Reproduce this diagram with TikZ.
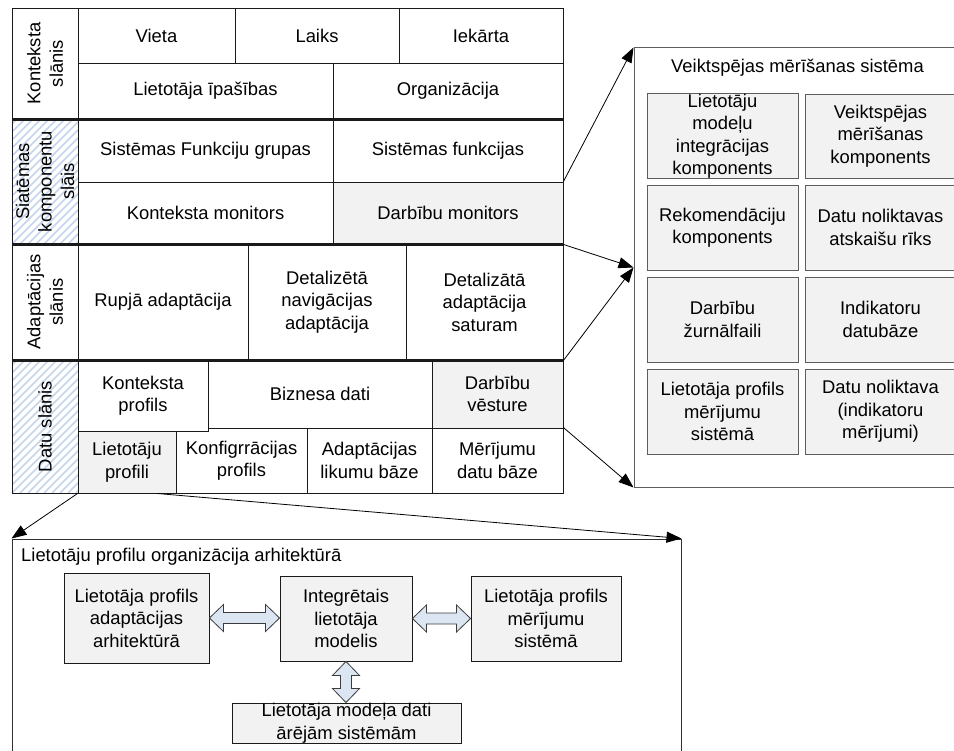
\documentclass[tikz,border=0pt]{standalone}
\usepackage{fontspec}
\setmainfont{Liberation Sans}
\usetikzlibrary{arrows.meta,calc}

\definecolor{edge}{HTML}{1A1A1A}
\definecolor{cellgray}{HTML}{F2F2F2}
\definecolor{hatchblue}{HTML}{C4D4EA}
\definecolor{arrowblue}{HTML}{DCE6F2}
\definecolor{framegray}{HTML}{5E5E5E}

\tikzset{
  txt/.style={font=\fontsize{18.4}{22.5}\selectfont},
  cell/.style={txt, draw=edge, line width=0.9pt, rectangle, inner sep=0pt, align=center},
  graycell/.style={cell, fill=cellgray},
  gridcell/.style={cell, fill=cellgray, draw=framegray},
  layerlabel/.style={txt, rotate=90, align=center, inner sep=0pt},
  layersep/.style={draw=edge, line width=2.4pt},
  link/.style={draw=black, line width=0.8pt, -{Triangle[length=15pt,width=11pt]}},
  hatch/.style={draw=hatchblue, line width=1.5pt},
  blockarrow/.style={draw=edge!85, fill=arrowblue, line width=0.8pt, line join=miter},
  frame/.style={draw=framegray, line width=1pt, rectangle, inner sep=0pt},
  title/.style={txt, anchor=west, inner sep=0pt},
}

% \cellat[style]{name}{x1}{y1}{x2}{y2}{text}: a box spanning (x1,y1)-(x2,y2)
\newcommand\cellat[7][]{%
  \node[cell,#1,minimum width={(#5)-(#3)},minimum height={(#6)-(#4)}]
    (#2) at ({((#3)+(#5))/2},{((#4)+(#6))/2}) {#7};}

\begin{document}
\begin{tikzpicture}[x=1pt,y=-1pt]
\useasboundingbox (0,0) rectangle (954,751);
\clip (0,0) rectangle (954,751);

% ---------- hatched layer labels ----------
\foreach \ya/\yb in {119/244, 360/493}{
  \begin{scope}
    \clip (12,\ya) rectangle (78,\yb);
    \foreach \k in {-160,-152,...,80}
      \draw[hatch] (12+\k,\yb) -- ++(170,-170);
  \end{scope}
}

% ---------- layer label column ----------
\cellat{lk}{12}{8}{78}{119}{}
\cellat{ls}{12}{119}{78}{244}{}
\cellat{la}{12}{244}{78}{360}{}
\cellat{ld}{12}{360}{78}{493}{}
\node[layerlabel] (tk) at (lk.center) {Konteksta\\slānis};
\node[layerlabel] (ts) at (ls.center) {Siatēmas\\komponentu\\slāis};
\node[layerlabel] (ta) at (la.center) {Adaptācijas\\slānis};
\node[layerlabel] (td) at (ld.center) {Datu slānis};

% ---------- context layer ----------
\cellat{vieta}{78}{8}{235}{63}{Vieta}
\cellat{laiks}{235}{8}{399}{63}{Laiks}
\cellat{iekarta}{399}{8}{563}{63}{Iekārta}
\cellat{lipas}{78}{63}{333}{119}{Lietotāja īpašības}
\cellat{org}{333}{63}{563}{119}{Organizācija}

% ---------- system components layer ----------
\cellat{sfg}{78}{119}{333}{182}{Sistēmas Funkciju grupas}
\cellat{sf}{333}{119}{563}{182}{Sistēmas funkcijas}
\cellat{km}{78}{182}{333}{244}{Konteksta monitors}
\cellat[graycell]{dm}{333}{182}{563}{244}{Darbību monitors}

% ---------- adaptation layer ----------
\cellat{ra}{78}{244}{248}{360}{Rupjā adaptācija}
\cellat{dna}{248}{244}{406}{360}{Detalizētā\\navigācijas\\adaptācija}
\cellat{das}{406}{244}{563}{360}{Detalizātā\\adaptācija\\saturam}

% ---------- data layer ----------
\cellat{bd}{208}{360}{432}{428}{Biznesa dati}
\cellat[graycell]{dv}{432}{360}{563}{428}{Darbību\\vēsture}
\cellat{kfp}{176}{428}{307}{493}{Konfigrrācijas\\profils}
\cellat{alb}{307}{428}{432}{493}{Adaptācijas\\likumu bāze}
\cellat{mdb}{432}{428}{563}{493}{Mērījumu\\datu bāze}
\cellat[fill=white]{ktp}{78}{360}{208}{431}{Konteksta\\profils}
\cellat[graycell]{lp}{78}{431}{176}{493}{Lietotāju\\profili}

% ---------- layer separators ----------
\draw[layersep] (lk.south west) -- (org.south east);
\draw[layersep] (ls.south west) -- (dm.south east);
\draw[layersep] (la.south west) -- (das.south east);

% ---------- performance measurement system ----------
\node[frame, minimum width=335, minimum height=439] (vms) at (801.5,267.5) {};
\node[title] (vmst) at (671,68) {Veiktspējas mērīšanas sistēma};
\cellat[gridcell]{g11}{647}{94}{798}{178}{Lietotāju\\modeļu\\integrācijas\\komponents}
\cellat[gridcell]{g12}{805}{94}{956}{178}{Veiktspējas\\mērīšanas\\komponents}
\cellat[gridcell]{g21}{647}{185}{798}{270}{Rekomendāciju\\komponents}
\cellat[gridcell]{g22}{805}{185}{956}{270}{Datu noliktavas\\atskaišu rīks}
\cellat[gridcell]{g31}{647}{277}{798}{362}{Darbību\\žurnālfaili}
\cellat[gridcell]{g32}{805}{277}{956}{362}{Indikatoru\\datubāze}
\cellat[gridcell]{g41}{647}{369}{798}{454}{Lietotāja profils\\mērījumu\\sistēmā}
\cellat[gridcell]{g42}{805}{369}{956}{454}{Datu noliktava\\(indikatoru\\mērījumi)}

% ---------- user profile organisation ----------
\node[frame, draw=edge!90, minimum width=669, minimum height=241] (lpo) at (346.5,659.5) {};
\node[title] (lpot) at (21,557) {Lietotāju profilu organizācija arhitektūrā};
\cellat[graycell]{b1}{64}{573}{209}{663}{Lietotāja profils\\adaptācijas\\arhitektūrā}
\cellat[graycell]{b2}{280}{576}{412}{661}{Integrētais\\lietotāja\\modelis}
\cellat[graycell]{b3}{471}{576}{621}{661}{Lietotāja profils\\mērījumu\\sistēmā}
\cellat[graycell]{b4}{232}{703}{461}{743}{Lietotāja modeļa dati\\ārējām sistēmām}

% two-headed block arrows
\draw[blockarrow] (b1.east) -- ++(14,-13.5) -- ++(0,8)
  -- ($(b2.west |- b1.east)+(-14,-5.5)$) -- ++(0,-8) -- (b2.west |- b1.east)
  -- ++(-14,13.5) -- ++(0,-8) -- ($(b1.east)+(14,5.5)$) -- ++(0,8) -- cycle;
\draw[blockarrow] (b2.east) -- ++(14,-13.5) -- ++(0,8)
  -- ($(b3.west |- b2.east)+(-14,-5.5)$) -- ++(0,-8) -- (b3.west |- b2.east)
  -- ++(-14,13.5) -- ++(0,-8) -- ($(b2.east)+(14,5.5)$) -- ++(0,8) -- cycle;
\draw[blockarrow] (b2.south) -- ++(-13.5,14) -- ++(8,0)
  -- ($(b2.south |- b4.north)+(-5.5,-14)$) -- ++(-8,0) -- (b2.south |- b4.north)
  -- ++(13.5,-14) -- ++(-8,0) -- ($(b2.south)+(5.5,14)$) -- ++(8,0) -- cycle;

% ---------- zoom-out connectors ----------
\draw[link] (dm.north east) -- (vms.north west);
\draw[link] (dm.south east) -- (vms.west);
\draw[link] (das.south east) -- (vms.west);
\draw[link] (mdb.north east) -- (vms.south west);
\draw[link] (lp.south west) -- (lpo.north west);
\draw[link] ($(lp.south west)!0.8!(lp.south east)$) -- (lpo.north east);
\end{tikzpicture}
\end{document}
